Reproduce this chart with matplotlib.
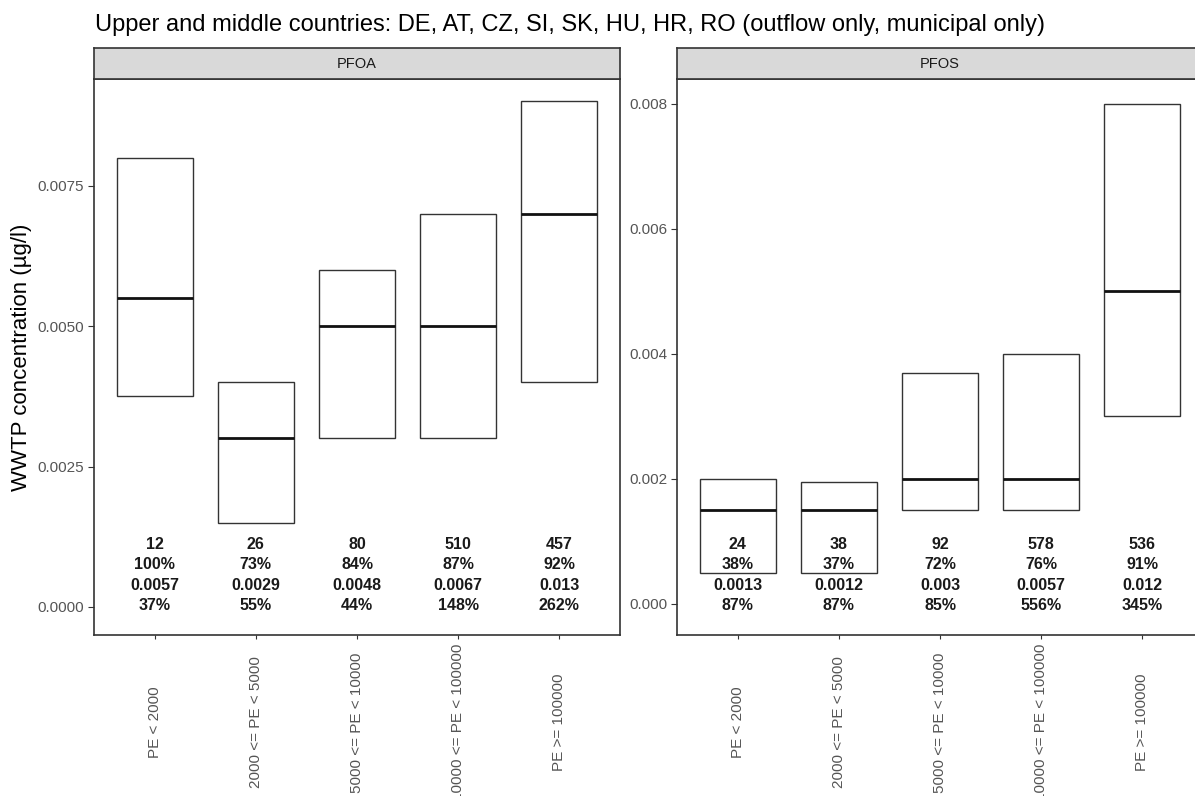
import matplotlib
matplotlib.use("Agg")
import matplotlib.pyplot as plt
from matplotlib.transforms import blended_transform_factory

plt.rcParams['font.family'] = ['Liberation Sans', 'DejaVu Sans']

# ---------------- data ----------------
categories = ["PE < 2000", "2000 <= PE < 5000", "5000 <= PE < 10000",
              "10000 <= PE < 100000", "PE >= 100000"]

pfoa_q1 = [0.00375, 0.0015, 0.003, 0.003, 0.004]
pfoa_med = [0.0055, 0.003, 0.005, 0.005, 0.007]
pfoa_q3 = [0.008, 0.004, 0.006, 0.007, 0.009]
pfoa_n = ["12", "26", "80", "510", "457"]
pfoa_detect = ["100%", "73%", "84%", "87%", "92%"]
pfoa_mean = ["0.0057", "0.0029", "0.0048", "0.0067", "0.013"]
pfoa_cv = ["37%", "55%", "44%", "148%", "262%"]

pfos_q1 = [0.0005, 0.0005, 0.0015, 0.0015, 0.003]
pfos_med = [0.0015, 0.0015, 0.002, 0.002, 0.005]
pfos_q3 = [0.002, 0.00195, 0.0037, 0.004, 0.008]
pfos_n = ["24", "38", "92", "578", "536"]
pfos_detect = ["38%", "37%", "72%", "76%", "91%"]
pfos_mean = ["0.0013", "0.0012", "0.003", "0.0057", "0.012"]
pfos_cv = ["87%", "87%", "85%", "556%", "345%"]

pfoa_yticks = [0.0, 0.0025, 0.005, 0.0075]
pfoa_yticklabels = ["0.0000", "0.0025", "0.0050", "0.0075"]
pfos_yticks = [0.0, 0.002, 0.004, 0.006, 0.008]
pfos_yticklabels = ["0.000", "0.002", "0.004", "0.006", "0.008"]

title = "Upper and middle countries: DE, AT, CZ, SI, SK, HU, HR, RO (outflow only, municipal only)"
ylabel = "WWTP concentration (\u00b5g/l)"

# ---------------- layout ----------------
W, H = 1195, 796
fig = plt.figure(figsize=(W / 100, H / 100), dpi=100)
fig.patch.set_facecolor("white")

def fx(px):
    return px / W

def fy(py):
    return 1 - py / H

ax_top, ax_bot = 79, 635
strip_top = 48
edge = "#333333"
tickcol = "#555555"

panels = [
    dict(left=94, width=526, name="PFOA", q1=pfoa_q1, med=pfoa_med, q3=pfoa_q3,
         n=pfoa_n, det=pfoa_detect, mean=pfoa_mean, cv=pfoa_cv,
         ylim=(-0.0005, 0.0094), yt=pfoa_yticks, ytl=pfoa_yticklabels),
    dict(left=677, width=526, name="PFOS", q1=pfos_q1, med=pfos_med, q3=pfos_q3,
         n=pfos_n, det=pfos_detect, mean=pfos_mean, cv=pfos_cv,
         ylim=(-0.0005, 0.0084), yt=pfos_yticks, ytl=pfos_yticklabels),
]

for p in panels:
    ax = fig.add_axes([fx(p["left"]), fy(ax_bot), fx(p["width"]), (ax_bot - ax_top) / H])
    stats = []
    for i in range(len(categories)):
        stats.append(dict(med=p["med"][i], q1=p["q1"][i], q3=p["q3"][i],
                          whislo=p["q1"][i], whishi=p["q3"][i], fliers=[]))
    pos = list(range(1, len(categories) + 1))
    ax.bxp(stats, positions=pos, widths=0.75, showcaps=False, showfliers=False,
           patch_artist=True,
           boxprops=dict(facecolor="white", edgecolor=edge, linewidth=1.0),
           medianprops=dict(color="#111111", linewidth=2.0),
           whiskerprops=dict(linewidth=0))
    ax.set_xlim(0.4, len(categories) + 0.6)
    ax.set_ylim(*p["ylim"])
    ax.set_yticks(p["yt"])
    ax.set_yticklabels(p["ytl"])
    ax.set_xticks(pos)
    ax.set_xticklabels(categories, rotation=90, va="center", ha="center")
    ax.tick_params(axis="y", length=4, width=0.8, color=edge, labelcolor=tickcol,
                   labelsize=11, pad=3)
    ax.tick_params(axis="x", length=3, width=0.8, color=edge, labelcolor=tickcol,
                   labelsize=11, pad=60)
    for s in ax.spines.values():
        s.set_color(edge)
        s.set_linewidth(1.2)
    trans = blended_transform_factory(ax.transData, ax.transAxes)
    for i in range(len(categories)):
        txt = "\n".join([p["n"][i], p["det"][i], p["mean"][i], p["cv"][i]])
        ax.text(pos[i], (ax_bot - 575) / (ax_bot - ax_top), txt, transform=trans,
                ha="center", va="center", fontsize=11.5, fontweight="bold",
                color="#1a1a1a", linespacing=1.45, multialignment="center")

    # strip
    sax = fig.add_axes([fx(p["left"]), fy(ax_top), fx(p["width"]), (ax_top - strip_top) / H])
    sax.set_facecolor("#D9D9D9")
    sax.set_xticks([])
    sax.set_yticks([])
    for s in sax.spines.values():
        s.set_color(edge)
        s.set_linewidth(1.2)
    sax.text(0.5, 0.5, p["name"], transform=sax.transAxes, ha="center", va="center",
             fontsize=10.5, color="#1a1a1a")

fig.text(fx(95), fy(25), title, ha="left", va="center", fontsize=17, color="black")
fig.text(fx(22), fy((ax_top + ax_bot) / 2), ylabel, rotation=90, ha="center",
         va="center", fontsize=16, color="black")

fig.savefig("out.png", dpi=100, facecolor="white")
